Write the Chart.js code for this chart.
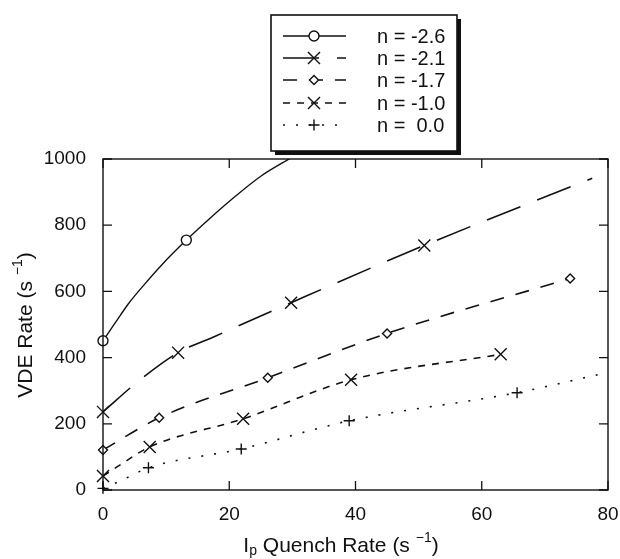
<!DOCTYPE html>
<html>
<head>
<meta charset="utf-8">
<script src="https://cdn.jsdelivr.net/npm/chart.js@4/dist/chart.umd.min.js"></script>
<style>
  html, body { margin: 0; padding: 0; background: #fff; }
  #wrap { width: 620px; height: 559px; }
</style>
</head>
<body>
<div id="wrap"><canvas id="c" width="620" height="559"></canvas></div>
<script>
// ---- data ----
const seriesLabels = ['n = -2.6', 'n = -2.1', 'n = -1.7', 'n = -1.0', 'n =  0.0'];

// curve points
const s1LineX = [0, 2, 4, 6.6, 9.3, 13.2, 17, 20.5, 25, 30];
const s1LineY = [451, 507, 562, 622, 680, 755, 822, 880, 948, 1006];
const s2LineX = [0, 5.5, 11.9, 17.7, 29.8, 50.9, 77.5];
const s2LineY = [236, 327, 415, 464, 566, 739, 942];
const s3LineX = [0, 8.9, 26.1, 45, 74];
const s3LineY = [121, 218, 339, 473, 639];
const s4LineX = [0, 2.4, 7.4, 22.2, 39.3, 63];
const s4LineY = [42, 72, 130, 215, 333, 410];
const s5LineX = [0, 2.7, 7.2, 21.9, 39, 65.6, 79];
const s5LineY = [5, 27, 67, 124, 209, 294, 351];

// marker points
const s1MarkX = [0, 13.2];
const s1MarkY = [451, 755];
const s2MarkX = [0, 11.9, 29.8, 50.9];
const s2MarkY = [236, 415, 566, 739];
const s3MarkX = [0, 8.9, 26.1, 45, 74];
const s3MarkY = [121, 218, 339, 473, 639];
const s4MarkX = [0, 7.4, 22.2, 39.3, 63];
const s4MarkY = [42, 130, 215, 333, 410];
const s5MarkX = [0, 7.2, 21.9, 39, 65.6];
const s5MarkY = [5, 67, 124, 209, 294];

const xTicks = [0, 20, 40, 60, 80];
const yTicks = [0, 200, 400, 600, 800, 1000];

// ---- styles ----
const INK = '#111';
const FONT = "'Liberation Sans', Arial, Helvetica, sans-serif";
const lineX = [s1LineX, s2LineX, s3LineX, s4LineX, s5LineX];
const lineY = [s1LineY, s2LineY, s3LineY, s4LineY, s5LineY];
const markX = [s1MarkX, s2MarkX, s3MarkX, s4MarkX, s5MarkX];
const markY = [s1MarkY, s2MarkY, s3MarkY, s4MarkY, s5MarkY];
const dashes = [[], [36, 18], [14, 12], [7, 7], [2, 11]];
const widths = [1.4, 1.6, 1.6, 1.6, 1.6];
const pStyles = ['circle', 'crossRot', 'rectRot', 'crossRot', 'cross'];
const pRadius = [5, 8.5, 4.5, 8.5, 5.5];
const pFill = ['#fff', INK, '#fff', INK, INK];

const zip = (xs, ys) => xs.map((x, i) => ({ x: x, y: ys[i] }));

const datasets = [];
for (let i = 0; i < 5; i++) {
  datasets.push({
    label: seriesLabels[i],
    data: zip(lineX[i], lineY[i]),
    showLine: true,
    borderColor: INK,
    borderWidth: widths[i],
    borderDash: dashes[i],
    pointRadius: 0,
    pointHoverRadius: 0,
    cubicInterpolationMode: 'monotone',
    fill: false,
    order: 2
  });
}
for (let i = 0; i < 5; i++) {
  datasets.push({
    label: seriesLabels[i] + ' markers',
    data: zip(markX[i], markY[i]),
    showLine: false,
    borderColor: INK,
    backgroundColor: pFill[i],
    pointBorderColor: INK,
    pointBackgroundColor: pFill[i],
    pointStyle: pStyles[i],
    pointRadius: pRadius[i],
    pointBorderWidth: 1.4,
    clip: false,
    order: 1
  });
}

const decor = {
  id: 'decor',
  afterDraw(chart) {
    const ctx = chart.ctx;
    const a = chart.chartArea;
    const xs = chart.scales.x, ys = chart.scales.y;
    ctx.save();
    ctx.strokeStyle = INK;
    ctx.fillStyle = INK;
    ctx.setLineDash([]);
    // frame
    ctx.lineWidth = 1.4;
    ctx.strokeRect(a.left, a.top, a.right - a.left, a.bottom - a.top);
    // inward ticks
    const tl = 9;
    ctx.lineWidth = 1.3;
    ctx.beginPath();
    xTicks.forEach(v => {
      const px = xs.getPixelForValue(v);
      ctx.moveTo(px, a.bottom); ctx.lineTo(px, a.bottom - tl);
      ctx.moveTo(px, a.top); ctx.lineTo(px, a.top + tl);
    });
    yTicks.forEach(v => {
      const py = ys.getPixelForValue(v);
      ctx.moveTo(a.left, py); ctx.lineTo(a.left + tl, py);
      ctx.moveTo(a.right, py); ctx.lineTo(a.right - tl, py);
    });
    ctx.stroke();

    // axis titles
    const big = '21px ' + FONT, small = '14px ' + FONT;
    const drawParts = (parts, cx, cy) => {
      let w = 0;
      parts.forEach(p => { ctx.font = p.f; p.w = ctx.measureText(p.t).width; w += p.w; });
      let x = cx - w / 2;
      ctx.textBaseline = 'middle';
      ctx.textAlign = 'left';
      parts.forEach(p => { ctx.font = p.f; ctx.fillText(p.t, x, cy + p.dy); x += p.w; });
    };
    // x title: I_p Quench Rate (s^-1)
    drawParts([
      { t: 'I', f: big, dy: 0 },
      { t: 'p', f: small, dy: 5 },
      { t: ' Quench Rate (s ', f: big, dy: 0 },
      { t: '\u22121', f: small, dy: -8 },
      { t: ')', f: big, dy: 0 }
    ], 341, 546);
    // y title
    ctx.save();
    ctx.translate(26, 325);
    ctx.rotate(-Math.PI / 2);
    drawParts([
      { t: 'VDE Rate (s ', f: big, dy: 0 },
      { t: '\u22121', f: small, dy: -8 },
      { t: ')', f: big, dy: 0 }
    ], 0, 0);
    ctx.restore();

    // legend box with shadow
    const bx = 271, by = 15, bw = 186, bh = 136;
    ctx.fillStyle = INK;
    ctx.fillRect(bx + 4, by + 4, bw, bh);
    ctx.fillStyle = '#fff';
    ctx.fillRect(bx, by, bw, bh);
    ctx.lineWidth = 1.6;
    ctx.strokeStyle = INK;
    ctx.strokeRect(bx, by, bw, bh);

    const rowY = [36, 58, 80, 103, 125];
    const x0 = 283, x1 = 346, mx = 314;
    const legFont = '20px ' + FONT;
    for (let i = 0; i < 5; i++) {
      const y = rowY[i];
      ctx.save();
      ctx.lineWidth = widths[i];
      ctx.setLineDash(dashes[i]);
      ctx.beginPath();
      ctx.moveTo(x0, y); ctx.lineTo(x1, y);
      ctx.stroke();
      ctx.restore();
      ctx.save();
      ctx.setLineDash([]);
      ctx.strokeStyle = INK;
      ctx.fillStyle = pFill[i];
      ctx.lineWidth = 1.4;
      Chart.helpers.drawPoint(ctx, { pointStyle: pStyles[i], radius: pRadius[i], rotation: 0, borderWidth: 1.4 }, mx, y);
      ctx.restore();
      ctx.fillStyle = INK;
      ctx.font = legFont;
      ctx.textAlign = 'left';
      ctx.textBaseline = 'middle';
      ctx.fillText(seriesLabels[i], 377, y + 1);
    }
    ctx.restore();
  }
};

new Chart(document.getElementById('c'), {
  type: 'scatter',
  data: { datasets: datasets },
  options: {
    responsive: false,
    animation: false,
    devicePixelRatio: 1,
    layout: { padding: { top: 159, right: 12, left: 0, bottom: 0 } },
    plugins: { legend: { display: false }, tooltip: { enabled: false } },
    scales: {
      x: {
        type: 'linear', min: 0, max: 80,
        afterFit: s => { s.height = 69; s.paddingLeft = 0; s.paddingRight = 0; },
        afterBuildTicks: s => { s.ticks = xTicks.map(v => ({ value: v })); },
        grid: { display: false, drawTicks: false },
        border: { display: false },
        ticks: { color: INK, font: { family: FONT, size: 19 }, padding: 13, maxRotation: 0, callback: v => String(v) }
      },
      y: {
        type: 'linear', min: 0, max: 1000,
        afterFit: s => { s.width = 103; s.paddingTop = 0; s.paddingBottom = 0; },
        afterBuildTicks: s => { s.ticks = yTicks.map(v => ({ value: v })); },
        grid: { display: false, drawTicks: false },
        border: { display: false },
        ticks: { color: INK, font: { family: FONT, size: 19 }, padding: 17, callback: v => String(v) }
      }
    }
  },
  plugins: [decor]
});
</script>
</body>
</html>
